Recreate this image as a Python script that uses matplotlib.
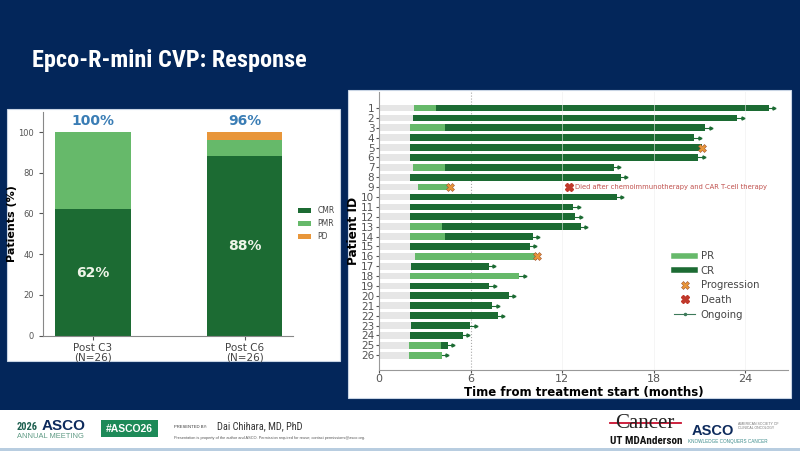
import numpy as np
import matplotlib
matplotlib.use('Agg')
import matplotlib.pyplot as plt
from matplotlib.patches import Rectangle
from matplotlib.lines import Line2D

# ---- left panel data (stacked response %) ----
timepoints = ['Post C3\n(N=26)', 'Post C6\n(N=26)']
cmr = [62, 88]
pmr = [38, 8]
pd_ = [0, 4]
orr_labels = ['100%', '96%']
cmr_labels = ['62%', '88%']

# ---- right panel data (swimmer plot, months) ----
patient_ids = list(range(1, 27))
gray_end = [2.28, 2.19, 1.99, 1.99, 1.99, 2.0, 2.23, 2.05, 2.52, 2.0, 2.0, 1.99, 2.0,
            2.0, 2.0, 2.32, 2.1, 2.0, 1.99, 1.99, 2.0, 2.0, 2.1, 2.0, 1.97, 1.97]
pr_end = [3.70, 2.19, 4.33, 1.99, 1.99, 2.0, 4.31, 2.05, 4.64, 2.0, 2.0, 1.99, 4.09,
          4.33, 2.0, 10.32, 2.1, 9.18, 1.99, 1.99, 2.0, 2.0, 2.1, 2.0, 4.05, 4.09]
cr_end = [25.55, 23.48, 21.38, 20.66, 21.14, 20.92, 15.37, 15.83, np.nan, 15.57, 12.72,
          12.85, 13.23, 10.06, 9.88, np.nan, 7.19, np.nan, 7.21, 8.50, 7.41, 7.76, 5.97,
          5.49, 4.50, np.nan]
progression_ids = [5, 9, 16]
death_id = 9
death_time = 12.46
death_note = 'Died after chemoimmunotherapy and CAR T-cell therapy'

NAVY = '#03265a'
CR_C = '#1c6b33'
PR_C = '#66b96a'
GRAY = '#e6e6e6'
PROG_C = '#e8963a'
DEATH_C = '#c0392b'
NARROW = ['Liberation Sans Narrow', 'Roboto Condensed', 'Liberation Sans']

fig = plt.figure(figsize=(8, 4.51), dpi=100)
fig.patch.set_facecolor(NAVY)

# white panels (behind axes)
fig.patches.append(Rectangle((0.00875, 0.1996), 0.416, 0.5588, transform=fig.transFigure,
                             facecolor='white', edgecolor='#c8d4e4', lw=0.8, zorder=-5))
fig.patches.append(Rectangle((0.435, 0.1175), 0.554, 0.683, transform=fig.transFigure,
                             facecolor='white', edgecolor='#c8d4e4', lw=0.8, zorder=-5))
# footer band
fig.patches.append(Rectangle((0, 0), 1, 0.091, transform=fig.transFigure,
                             facecolor='white', edgecolor='none', zorder=-5))
fig.patches.append(Rectangle((0, 0.0), 1, 0.006, transform=fig.transFigure,
                             facecolor='#b8cde0', edgecolor='none', zorder=-4))

fig.text(0.04, 1 - 67 / 451, 'Epco-R-mini CVP: Response', color='white',
         fontsize=17.5, fontweight='bold', family=NARROW, va='baseline')

# ---------------- left: stacked bar ----------------
ax1 = fig.add_axes([0.05375, 0.2557, 0.3125, 0.4967])
ax1.patch.set_alpha(0)
x = np.arange(len(timepoints))
w = 0.5
ax1.bar(x, cmr, w, color=CR_C, label='CMR')
ax1.bar(x, pmr, w, bottom=cmr, color=PR_C, label='PMR')
ax1.bar(x, pd_, w, bottom=np.array(cmr) + np.array(pmr), color=PROG_C, label='PD')
for i in range(len(x)):
    ax1.text(x[i], 102, orr_labels[i], ha='center', va='bottom', color='#3a7db5',
             fontsize=10, fontweight='bold')
    ax1.text(x[i], cmr[i] / 2, cmr_labels[i], ha='center', va='center', color='#eef4e8',
             fontsize=10, fontweight='bold')
ax1.set_xlim(-0.33, 1.32)
ax1.set_ylim(0, 110)
ax1.set_xticks(x)
ax1.set_xticklabels(timepoints, fontsize=7.5, linespacing=1.0)
ax1.set_yticks([0, 20, 40, 60, 80, 100])
ax1.tick_params(axis='y', labelsize=6, colors='#555555', length=3)
ax1.tick_params(axis='x', length=3, colors='#555555', pad=2)
for lab in ax1.get_xticklabels():
    lab.set_color('#444444')
ax1.set_ylabel('Patients (%)', fontsize=8, fontweight='bold', labelpad=1)
for s in ['top', 'right']:
    ax1.spines[s].set_visible(False)
for s in ['left', 'bottom']:
    ax1.spines[s].set_color('#888888')
ax1.legend(loc='center left', bbox_to_anchor=(1.0, 0.5), frameon=False, fontsize=5.5,
           handlelength=1.8, handleheight=0.6, labelspacing=0.5, borderaxespad=0.2,
           labelcolor='#444444')

# ---------------- right: swimmer ----------------
ax2 = fig.add_axes([0.474, 0.1796, 0.511, 0.616])
ax2.patch.set_alpha(0)
ax2.axvline(6, color='#aaaaaa', ls=':', lw=0.8, zorder=0)
for g in [12, 18, 24]:
    ax2.axvline(g, color='#eeeeee', lw=0.7, zorder=3, alpha=0.6)
h = 0.68
for i, pid in enumerate(patient_ids):
    ax2.barh(pid, gray_end[i], height=h, color=GRAY, zorder=1)
    if pr_end[i] > gray_end[i]:
        ax2.barh(pid, pr_end[i] - gray_end[i], left=gray_end[i], height=h, color=PR_C, zorder=2)
    end = pr_end[i]
    if not np.isnan(cr_end[i]):
        ax2.barh(pid, cr_end[i] - pr_end[i], left=pr_end[i], height=h, color=CR_C, zorder=2)
        end = cr_end[i]
    if pid in progression_ids:
        ax2.plot(end, pid, marker='X', ms=6, color=PROG_C, mec='#a0522d', mew=0.4, zorder=4)
    else:
        ax2.plot([end, end + 0.35], [pid, pid], color=CR_C, lw=0.8, zorder=4)
        ax2.plot(end + 0.35, pid, marker='>', ms=2.2, color=CR_C, zorder=4)
ax2.plot(death_time, death_id, marker='X', ms=6, color=DEATH_C, zorder=4)
ax2.text(death_time + 0.35, death_id, death_note, color='#c0504d', fontsize=4.9,
         va='center', ha='left')

ax2.set_xlim(0, 26.8)
ax2.set_ylim(27.5, -0.6)
ax2.set_yticks(patient_ids)
ax2.set_yticklabels([str(p) for p in patient_ids])
ax2.set_xticks([0, 6, 12, 18, 24])
ax2.tick_params(axis='y', labelsize=7.5, colors='#555555', length=2.5, pad=1)
ax2.tick_params(axis='x', labelsize=8, colors='#555555', length=2, pad=1)
ax2.set_ylabel('Patient ID', fontsize=8.7, fontweight='bold', labelpad=1)
ax2.set_xlabel('Time from treatment start (months)', fontsize=8.5, fontweight='bold',
               labelpad=1)
for s in ['top', 'right']:
    ax2.spines[s].set_visible(False)
for s in ['left', 'bottom']:
    ax2.spines[s].set_color('#999999')

handles = [
    Line2D([0], [0], color=PR_C, lw=4),
    Line2D([0], [0], color=CR_C, lw=4),
    Line2D([0], [0], marker='X', color='none', markerfacecolor=PROG_C,
           markeredgecolor='#a0522d', mew=0.4, ms=6),
    Line2D([0], [0], marker='X', color='none', markerfacecolor=DEATH_C,
           markeredgecolor=DEATH_C, ms=6),
    Line2D([0], [0], color='#3d7a5a', lw=0.8, marker='.', ms=3),
]
ax2.legend(handles, ['PR', 'CR', 'Progression', 'Death', 'Ongoing'],
           loc='upper left', bbox_to_anchor=(0.7, 0.46), frameon=False, fontsize=7.3,
           labelspacing=0.45, handlelength=2.0, handletextpad=0.6, labelcolor='#444444')

# ---------------- footer ----------------
fy = 1 - 427 / 451
fig.text(0.021, fy, '2026', color='#1d5f4f', fontsize=7.5, fontweight='bold',
         family=NARROW, va='center')
fig.text(0.052, fy + 0.002, 'ASCO', color='#0d2a5c', fontsize=11, fontweight='bold',
         family='Liberation Sans', va='center')
fig.text(0.021, 1 - 437 / 451, 'ANNUAL MEETING', color='#5f9a84', fontsize=5.4,
         family='Liberation Sans', va='center')
fig.patches.append(Rectangle((101 / 800, 1 - 437 / 451), 57 / 800, 17 / 451,
                             transform=fig.transFigure, facecolor='#1d8a58',
                             edgecolor='none', zorder=1))
fig.text(129.5 / 800, 1 - 428.5 / 451, '#ASCO26', color='white', fontsize=7.5,
         fontweight='bold', family='Liberation Sans', ha='center', va='center')
fig.text(174 / 800, 1 - 427 / 451, 'PRESENTED BY:', color='#333333', fontsize=3,
         family='Liberation Sans', va='center')
fig.text(217 / 800, 1 - 426 / 451, 'Dai Chihara, MD, PhD', color='#333333', fontsize=7.5,
         family=NARROW, va='center')
fig.text(174 / 800, 1 - 438 / 451,
         'Presentation is property of the author and ASCO. Permission required for reuse; '
         'contact permissions@asco.org.', color='#555555', fontsize=2.8,
         family='Liberation Sans', va='center')

fig.text(645 / 800, 1 - 423 / 451, 'Cancer', color='#222222', fontsize=15,
         family='Liberation Serif', ha='center', va='center')
fig.add_artist(Line2D([610 / 800, 681 / 800], [1 - 423 / 451, 1 - 423 / 451],
                      transform=fig.transFigure, color='#c8102e', lw=1.3))
fig.text(646 / 800, 1 - 441 / 451, 'UT MDAnderson', color='#111111', fontsize=8,
         fontweight='bold', family=NARROW, ha='center', va='center')
fig.text(692 / 800, 1 - 431 / 451, 'ASCO', color='#0d2a5c', fontsize=10.5,
         fontweight='bold', family='Liberation Sans', va='center')
fig.text(738 / 800, 1 - 426 / 451, 'AMERICAN SOCIETY OF\nCLINICAL ONCOLOGY',
         color='#777777', fontsize=2.5, family='Liberation Sans', va='center',
         linespacing=1.1)
fig.text(688 / 800, 1 - 441 / 451, 'KNOWLEDGE CONQUERS CANCER', color='#3a8a8a',
         fontsize=3.3, family='Liberation Sans', va='center')

fig.savefig('out.png', dpi=100, facecolor=fig.get_facecolor())
